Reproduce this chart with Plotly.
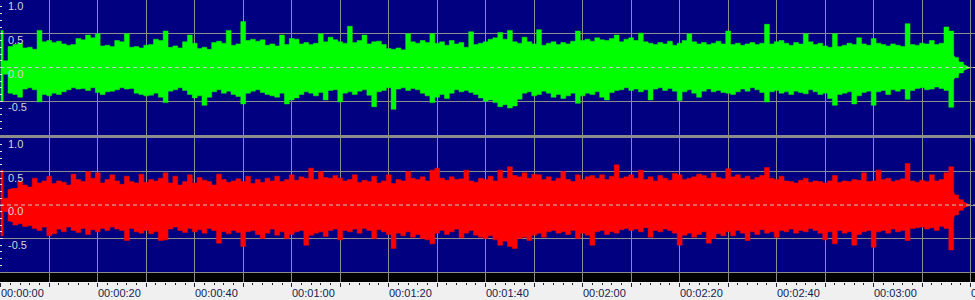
import plotly.graph_objects as go

# ---------------- data (amplitudes in hundredths of full scale) ----------------
t_sec = list(range(200))

g_hi = [55, 10, 31, 34, 36, 29, 30, 27, 55, 38,
        40, 37, 39, 35, 33, 34, 43, 41, 48, 44,
        50, 32, 33, 31, 40, 38, 50, 30, 31, 29,
        33, 34, 42, 40, 54, 30, 32, 29, 38, 48,
        36, 28, 30, 27, 37, 39, 36, 55, 33, 35,
        68, 40, 42, 39, 41, 33, 35, 32, 48, 34,
        43, 42, 35, 37, 34, 36, 50, 38, 45, 41,
        38, 36, 61, 37, 40, 48, 35, 38, 39, 34,
        28, 27, 29, 26, 50, 38, 36, 40, 37, 50,
        36, 38, 33, 40, 35, 37, 30, 53, 34, 36,
        38, 42, 44, 52, 42, 55, 38, 36, 45, 38,
        35, 56, 33, 36, 38, 34, 37, 35, 39, 54,
        40, 42, 39, 44, 41, 40, 43, 48, 38, 42,
        44, 40, 51, 38, 36, 34, 37, 35, 39, 33,
        36, 40, 50, 38, 35, 37, 34, 36, 39, 35,
        54, 34, 36, 33, 35, 37, 34, 36, 64, 35,
        38, 40, 36, 33, 37, 35, 50, 38, 34, 36,
        32, 30, 50, 31, 33, 36, 34, 44, 35, 33,
        43, 36, 34, 32, 35, 33, 31, 65, 34, 33,
        36, 35, 40, 34, 36, 60, 54, 15, 8, 3]

g_lo = [50, 10, 38, 40, 44, 32, 30, 33, 51, 40,
        42, 38, 40, 36, 33, 30, 32, 31, 34, 30,
        37, 40, 36, 35, 33, 30, 32, 31, 38, 40,
        42, 41, 38, 44, 52, 35, 33, 30, 34, 40,
        45, 42, 56, 44, 36, 33, 38, 35, 40, 43,
        54, 38, 35, 33, 37, 40, 42, 44, 38, 54,
        48, 45, 40, 36, 38, 42, 37, 48, 34, 33,
        51, 38, 36, 40, 35, 33, 41, 58, 36, 34,
        30, 62, 32, 30, 34, 31, 33, 38, 42, 52,
        44, 40, 46, 38, 33, 36, 34, 37, 40, 45,
        50, 48, 52, 58, 55, 60, 57, 47, 38, 36,
        42, 40, 35, 38, 44, 40, 46, 42, 38, 53,
        42, 38, 40, 36, 44, 48, 37, 34, 33, 30,
        34, 32, 36, 33, 48, 32, 30, 34, 31, 35,
        49, 36, 33, 38, 44, 35, 32, 36, 34, 37,
        38, 40, 36, 32, 35, 30, 33, 37, 51, 36,
        34, 38, 36, 40, 35, 37, 39, 33, 36, 40,
        38, 46, 56, 40, 38, 36, 54, 42, 37, 35,
        56, 36, 34, 40, 33, 35, 32, 47, 34, 31,
        30, 33, 32, 29, 31, 34, 59, 15, 8, 3]

r_hi = [52, 10, 23, 24, 35, 30, 27, 40, 33, 36,
        43, 32, 36, 34, 30, 46, 38, 35, 50, 40,
        48, 33, 38, 45, 36, 31, 43, 35, 33, 46,
        34, 38, 36, 40, 48, 33, 43, 30, 35, 45,
        33, 41, 37, 35, 30, 46, 38, 34, 36, 39,
        35, 43, 32, 38, 34, 40, 36, 43, 35, 38,
        45, 37, 42, 40, 55, 38, 50, 41, 40, 44,
        40, 36, 38, 45, 34, 37, 35, 43, 33, 36,
        45, 32, 38, 36, 50, 40, 38, 42, 36, 52,
        55, 40, 37, 42, 38, 39, 52, 36, 34, 40,
        38, 43, 36, 52, 40, 57, 44, 42, 48, 40,
        46, 45, 38, 42, 36, 40, 50, 38, 35, 45,
        38, 42, 44, 40, 45, 38, 43, 60, 40, 42,
        45, 40, 52, 38, 42, 36, 44, 40, 37, 47,
        45, 38, 40, 42, 46, 44, 40, 48, 41, 39,
        54, 42, 45, 40, 43, 38, 41, 44, 56, 40,
        38, 43, 36, 35, 33, 37, 40, 34, 36, 35,
        33, 36, 44, 34, 36, 35, 38, 37, 48, 35,
        36, 52, 38, 40, 35, 37, 39, 62, 36, 34,
        37, 35, 45, 36, 38, 48, 57, 15, 8, 3]

r_lo = [46, 10, 24, 30, 28, 32, 31, 35, 38, 33,
        46, 43, 36, 40, 33, 38, 41, 35, 44, 37,
        40, 35, 38, 33, 36, 38, 53, 35, 40, 42,
        38, 43, 40, 53, 52, 36, 33, 38, 41, 35,
        40, 37, 42, 35, 38, 57, 40, 43, 38, 41,
        62, 40, 38, 44, 50, 42, 36, 45, 40, 50,
        44, 40, 38, 60, 45, 42, 40, 47, 38, 36,
        52, 38, 40, 36, 42, 35, 38, 50, 37, 40,
        44, 65, 42, 46, 40, 48, 44, 50, 52, 58,
        42, 38, 44, 40, 36, 49, 42, 38, 45, 48,
        50, 46, 52, 60, 54, 62, 65, 50, 48, 53,
        45, 42, 48, 40, 38, 42, 40, 44, 38, 50,
        42, 45, 60, 40, 38, 44, 40, 42, 37, 35,
        38, 36, 40, 34, 48, 38, 40, 36, 38, 42,
        60, 45, 42, 48, 44, 40, 57, 50, 43, 46,
        40, 46, 38, 42, 53, 40, 44, 37, 42, 40,
        48, 38, 40, 36, 42, 38, 40, 35, 38, 42,
        52, 40, 58, 38, 42, 40, 60, 44, 40, 38,
        63, 40, 38, 42, 36, 40, 38, 53, 35, 34,
        33, 36, 34, 38, 32, 35, 67, 15, 8, 3]

# solid "body" of each channel (symmetric amplitude)
core_t = [0, 1.7, 2.0] + list(range(4, 197, 4)) + [197, 198, 199, 199.8]
g_core = [8, 8, 26,
          27, 25, 28, 27, 28, 26, 25, 27, 25, 26,
          25, 27, 28, 27, 29, 27, 28, 28, 27, 24,
          26, 27, 27, 26, 28, 30, 27, 26, 27, 28,
          28, 27, 27, 26, 27, 26, 27, 26, 27, 27,
          26, 25, 25, 26, 26, 25, 25, 25, 23,
          12, 6, 2.5, 0.5]
r_core = [8, 8, 24,
          25, 27, 28, 28, 29, 28, 28, 29, 27, 27,
          28, 28, 29, 28, 29, 30, 29, 29, 28, 30,
          31, 30, 29, 30, 32, 33, 30, 29, 28, 29,
          30, 30, 30, 31, 33, 34, 34, 34, 33, 30,
          29, 29, 29, 29, 29, 28, 27, 27, 24,
          12, 6, 2.5, 0.5]

label_secs = [0, 20, 40, 60, 80, 100, 120, 140, 160, 180, 200]
time_labels = ["00:00:00", "00:00:20", "00:00:40", "00:01:00", "00:01:20", "00:01:40",
               "00:02:00", "00:02:20", "00:02:40", "00:03:00", "00:03:20"]
y_label_vals = [1.0, 0.5, 0.0, -0.5]
y_labels = ["1.0", "0.5", "0.0", "-0.5"]

# ---------------- style ----------------
NAVY = "#000080"
GRID = "#8C8C8C"
SEP = "#8C8C8C"
STRIP = "#F0F0F0"
LABEL_LIGHT = "#D4D4DC"
LABEL_DARK = "#141C50"
FONT = "Liberation Sans, Arial, sans-serif"
XR = [-0.15, 200.9]

fig = go.Figure()


def add_channel(hi, lo, core, color, xa, ya):
    # stepped peak envelope (one column per second)
    kx = list(t_sec) + list(reversed(t_sec))
    ky = [h / 100.0 for h in hi] + [-l / 100.0 for l in reversed(lo)]
    fig.add_trace(go.Scatter(x=kx, y=ky, fill="toself", fillcolor=color, mode="lines",
                             line=dict(color=color, width=0.5, shape="hvh"),
                             hoverinfo="skip", showlegend=False, xaxis=xa, yaxis=ya))
    # solid body
    px = list(core_t) + list(reversed(core_t))
    py = [c / 100.0 for c in core] + [-c / 100.0 for c in reversed(core)]
    fig.add_trace(go.Scatter(x=px, y=py, fill="toself", fillcolor=color, mode="lines",
                             line=dict(color=color, width=1), hoverinfo="skip",
                             showlegend=False, xaxis=xa, yaxis=ya))


add_channel(g_hi, g_lo, g_core, "#00FF00", "x", "y")
add_channel(r_hi, r_lo, r_core, "#FF0000", "x2", "y2")

H = 300.0
top_dom = [1 - 135 / H, 1.0]
bot_dom = [1 - 272 / H, 1 - 138 / H]
band_dom = [1 - 282 / H, 1 - 272 / H]

xcommon = dict(range=XR, tickmode="linear", tick0=0, dtick=10, showgrid=True,
               gridcolor=GRID, gridwidth=1, zeroline=False, showticklabels=False,
               ticks="", fixedrange=True)
ycommon = dict(range=[-1, 1], tickmode="linear", tick0=0, dtick=0.5, showgrid=True,
               gridcolor=GRID, gridwidth=1, zeroline=False, showticklabels=False,
               ticks="inside", ticklen=3, tickcolor="#E0E0E0", fixedrange=True,
               minor=dict(dtick=0.1, ticks="inside", ticklen=2, tickcolor="#E0E0E0",
                          showgrid=False))

fig.update_layout(
    width=975, height=300, margin=dict(l=0, r=0, t=0, b=0),
    paper_bgcolor=SEP, plot_bgcolor=NAVY, showlegend=False, hovermode=False,
    xaxis=dict(**xcommon, anchor="y", showline=True, mirror=True, linecolor=GRID, linewidth=1),
    yaxis=dict(**ycommon, domain=top_dom, anchor="x"),
    xaxis2=dict(**xcommon, anchor="y2", showline=True, mirror=True, linecolor=GRID, linewidth=1),
    yaxis2=dict(**ycommon, domain=bot_dom, anchor="x2"),
    xaxis3=dict(range=XR, tickmode="linear", tick0=0, dtick=10, showgrid=True,
                gridcolor=GRID, gridwidth=1, zeroline=False, showticklabels=False,
                ticks="outside", ticklen=4, tickwidth=1, tickcolor="#202030",
                minor=dict(dtick=2, ticks="outside", ticklen=2, tickcolor="#202030",
                           showgrid=False),
                anchor="y3", showline=False, fixedrange=True),
    yaxis3=dict(range=[0, 1], domain=band_dom, anchor="x3", showgrid=False,
                zeroline=False, showticklabels=False, ticks="", fixedrange=True),
)

shapes = [
    dict(type="rect", xref="paper", yref="paper", x0=0, x1=1, y0=band_dom[0], y1=band_dom[1],
         fillcolor="#000000", line=dict(width=0), layer="below"),
    dict(type="rect", xref="paper", yref="paper", x0=0, x1=1, y0=0, y1=band_dom[0],
         fillcolor=STRIP, line=dict(width=0), layer="below"),
]
for ya in ["y", "y2"]:
    xa = "x" if ya == "y" else "x2"
    shapes.append(dict(type="line", xref=xa + " domain", yref=ya, x0=0, x1=1, y0=0, y1=0,
                       line=dict(color="#C8C8C8", width=1, dash="4px,3px"), layer="above"))
fig.update_layout(shapes=shapes)

ann = []
for ya in ["y", "y2"]:
    for v, s in zip(y_label_vals, y_labels):
        ann.append(dict(xref="paper", yref=ya, x=6 / 975.0, y=v, text=s, showarrow=False,
                        xanchor="left", yanchor="top", yshift=2,
                        font=dict(family=FONT, size=11, color=LABEL_LIGHT)))
for s, lab in zip(label_secs, time_labels):
    ann.append(dict(xref="x3", yref="paper", x=s, y=1 - 292.5 / H, text=lab, showarrow=False,
                    xanchor="left", yanchor="middle", xshift=-2,
                    font=dict(family=FONT, size=11, color=LABEL_DARK)))
fig.update_layout(annotations=ann)

fig.write_html("out.html", config={"displayModeBar": False, "staticPlot": True})
